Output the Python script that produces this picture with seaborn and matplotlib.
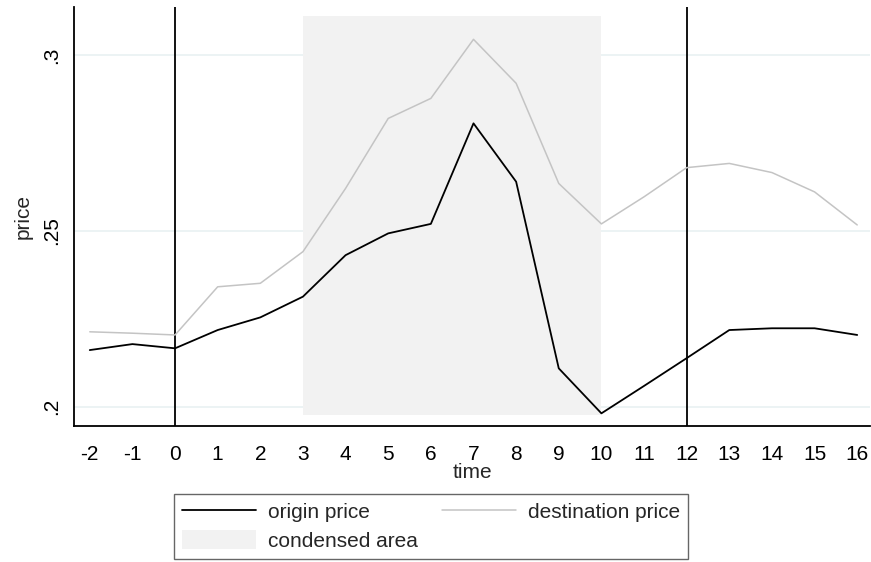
import matplotlib
matplotlib.use("Agg")
import matplotlib.pyplot as plt
import pandas as pd
import seaborn as sns
from matplotlib.patches import Patch
from matplotlib.lines import Line2D

# 数据
time = list(range(-2, 17))
origin_price = [0.2161, 0.2178, 0.2166, 0.2218, 0.2254, 0.2313, 0.2431, 0.2493, 0.2520, 0.2806,
                0.2640, 0.2109, 0.1981, 0.2059, 0.2138, 0.2218, 0.2223, 0.2223, 0.2204]
destination_price = [0.2213, 0.2209, 0.2204, 0.2341, 0.2351, 0.2441, 0.2621, 0.2820, 0.2877, 0.3045,
                     0.2920, 0.2635, 0.2520, 0.2597, 0.2680, 0.2692, 0.2666, 0.2611, 0.2517]
area_x = [3, 10]
area_low, area_high = 0.1976, 0.311
event_lines = [0, 12]
y_ticks = [0.2, 0.25, 0.3]
y_tick_labels = [".2", ".25", ".3"]

df = pd.DataFrame({"time": time, "origin price": origin_price,
                   "destination price": destination_price})

sns.set_style("white")
plt.rcParams['font.family'] = ['Liberation Sans', 'DejaVu Sans']

fig = plt.figure(figsize=(8.71, 5.62), dpi=100)
ax = fig.add_axes([74 / 871, 1 - 426 / 562, 796 / 871, 419 / 562])

ax.set_axisbelow(True)
ax.yaxis.grid(True, color='#e9f1f2', linewidth=1.2)
ax.xaxis.grid(False)

# 阴影区域
ax.fill_between(area_x, area_low, area_high, color='#f2f2f2', linewidth=0, zorder=1)

for v in event_lines:
    ax.axvline(v, color='black', linewidth=1.3, zorder=2)

sns.lineplot(data=df, x="time", y="destination price", color='#c4c4c4', linewidth=1.1, ax=ax, zorder=3)
sns.lineplot(data=df, x="time", y="origin price", color='black', linewidth=1.3, ax=ax, zorder=4)

ax.set_xlim(-2.37, 16.3)
ax.set_ylim(0.1945, 0.3137)
ax.set_xticks(time)
ax.set_xticklabels([str(t) for t in time])
ax.set_yticks(y_ticks)
ax.set_yticklabels(y_tick_labels, rotation=90, va='center')

for s in ['top', 'right']:
    ax.spines[s].set_visible(False)
for s in ['left', 'bottom']:
    ax.spines[s].set_color('black')
    ax.spines[s].set_linewidth(1.3)

ax.tick_params(axis='both', direction='out', length=6, width=1.1, color='black',
               labelsize=15, labelcolor='black')
ax.tick_params(axis='x', pad=8)
ax.tick_params(axis='y', pad=3)
ax.set_xlabel("time", fontsize=15, labelpad=-1)
ax.set_ylabel("price", fontsize=15, labelpad=7)

handles = [Line2D([], [], color='black', linewidth=1.3),
           Patch(facecolor='#f2f2f2', edgecolor='none'),
           Line2D([], [], color='#c4c4c4', linewidth=1.1)]
labels = ["origin price", "condensed area", "destination price"]
leg = fig.legend(handles, labels, loc='upper left', bbox_to_anchor=(174 / 871, 1 - 494 / 562),
                 ncol=2, fontsize=15, frameon=True, fancybox=False, borderaxespad=0,
                 borderpad=0.38, handlelength=3.56, handleheight=1.0, handletextpad=0.58,
                 columnspacing=1.15, labelspacing=0.38)
leg.get_frame().set_edgecolor('#404040')
leg.get_frame().set_linewidth(1.0)

fig.savefig("out.png", dpi=100)
